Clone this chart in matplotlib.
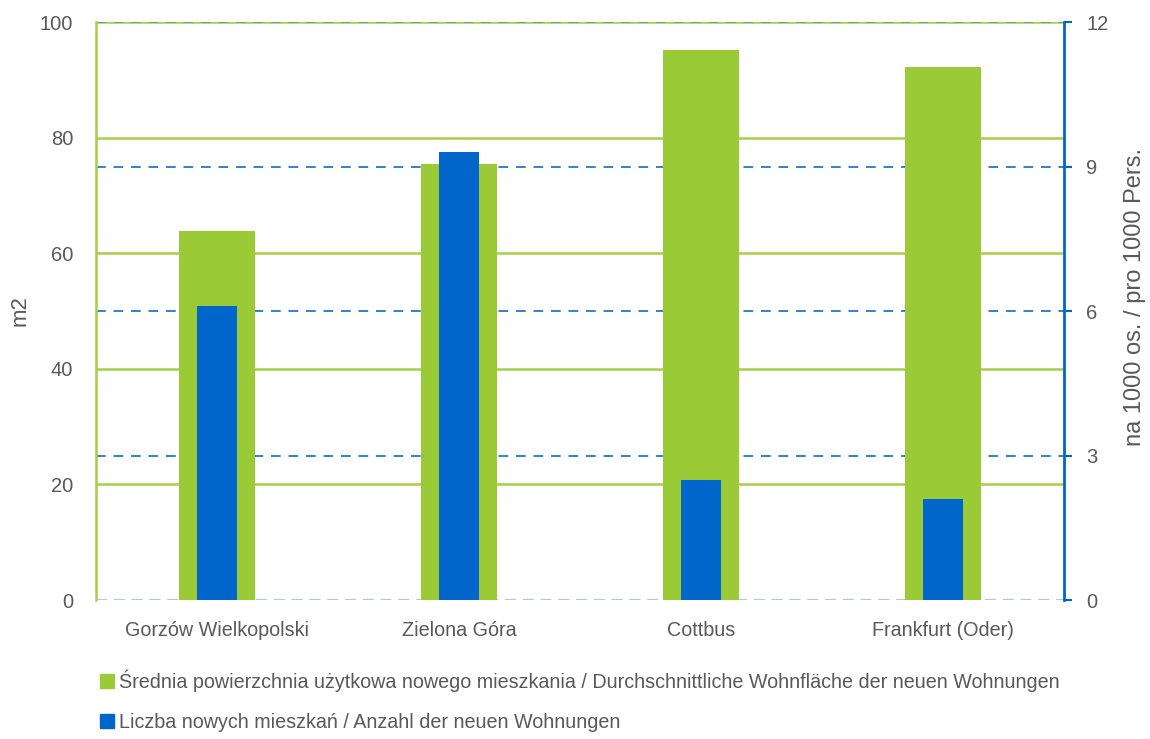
import matplotlib
matplotlib.use("Agg")
import matplotlib.pyplot as plt
from matplotlib.patches import Patch
import numpy as np

plt.rcParams['font.family'] = ['Liberation Sans', 'DejaVu Sans']

categories = ["Gorzów Wielkopolski", "Zielona Góra", "Cottbus", "Frankfurt (Oder)"]
area_m2 = [63.8, 75.4, 95.1, 92.2]
dwellings_per_1000 = [6.1, 9.3, 2.5, 2.1]
left_ticks = [0, 20, 40, 60, 80, 100]
right_ticks = [0, 3, 6, 9, 12]
label_area = "Średnia powierzchnia użytkowa nowego mieszkania / Durchschnittliche Wohnfläche der neuen Wohnungen"
label_count = "Liczba nowych mieszkań / Anzahl der neuen Wohnungen"
ylabel_left = "m2"
ylabel_right = "na 1000 os. / pro 1000 Pers."

GREEN = "#9ACA35"
GRID_GREEN = "#A6D04A"
BLUE = "#0066CC"
TXT = "#595959"

fig = plt.figure(figsize=(11.5, 7.39), dpi=100)
ax = fig.add_axes([0.0835, 0.188, 0.8415, 0.782])
ax2 = ax.twinx()

x = np.arange(len(categories))
ax.set_xlim(-0.5, len(categories) - 0.5)
ax.set_ylim(0, 100)
ax2.set_ylim(0, 12)

for t in left_ticks[1:]:
    ax.axhline(t, color=GRID_GREEN, lw=1.8, zorder=0)
for t in right_ticks[1:]:
    yv = t * 100 / 12
    ax.axhline(yv, color="#1A75D2", lw=1.4, ls=(0, (5, 4)), zorder=0.5,
               alpha=0.9 if t < 12 else 0.5)
ax.axhline(0, color="#B8C8D8", lw=1.6, ls=(0, (5, 3)), zorder=0.6)

ax.bar(x, area_m2, width=0.314, color=GREEN, zorder=2)
ax2.bar(x, dwellings_per_1000, width=0.165, color=BLUE, zorder=3)

ax.set_yticks(left_ticks)
ax2.set_yticks(right_ticks)
ax.set_xticks(x)
ax.set_xticklabels(categories)
ax.tick_params(axis='y', length=0, pad=16.5, labelsize=14.5, labelcolor=TXT)
ax.tick_params(axis='x', length=0, pad=15, labelsize=14.2, labelcolor=TXT)
ax2.tick_params(axis='y', length=5.8, width=1.5, color=BLUE, pad=10.5,
                labelsize=14.5, labelcolor=TXT, direction='out')

for a in (ax, ax2):
    for s in a.spines.values():
        s.set_visible(False)
ax.spines['left'].set_visible(True)
ax.spines['left'].set_color(GRID_GREEN)
ax.spines['left'].set_linewidth(1.8)
ax2.spines['right'].set_visible(True)
ax2.spines['right'].set_color(BLUE)
ax2.spines['right'].set_linewidth(2)

fig.text(20 / 1150, 1 - 311 / 739, ylabel_left, rotation=90, fontsize=16,
         color=TXT, ha='center', va='center')
fig.text(1135 / 1150, 1 - 297 / 739, ylabel_right, rotation=90, fontsize=17,
         color=TXT, ha='center', va='center')

handles = [Patch(color=GREEN, label=label_area), Patch(color=BLUE, label=label_count)]
fig.legend(handles=handles, loc="upper left", bbox_to_anchor=(0.087, 0.094),
           frameon=False, fontsize=14.2, labelcolor=TXT, handlelength=0.72,
           handleheight=0.72, handletextpad=0.25, labelspacing=1.05,
           borderaxespad=0, borderpad=0)

fig.savefig("out.png", dpi=100)
